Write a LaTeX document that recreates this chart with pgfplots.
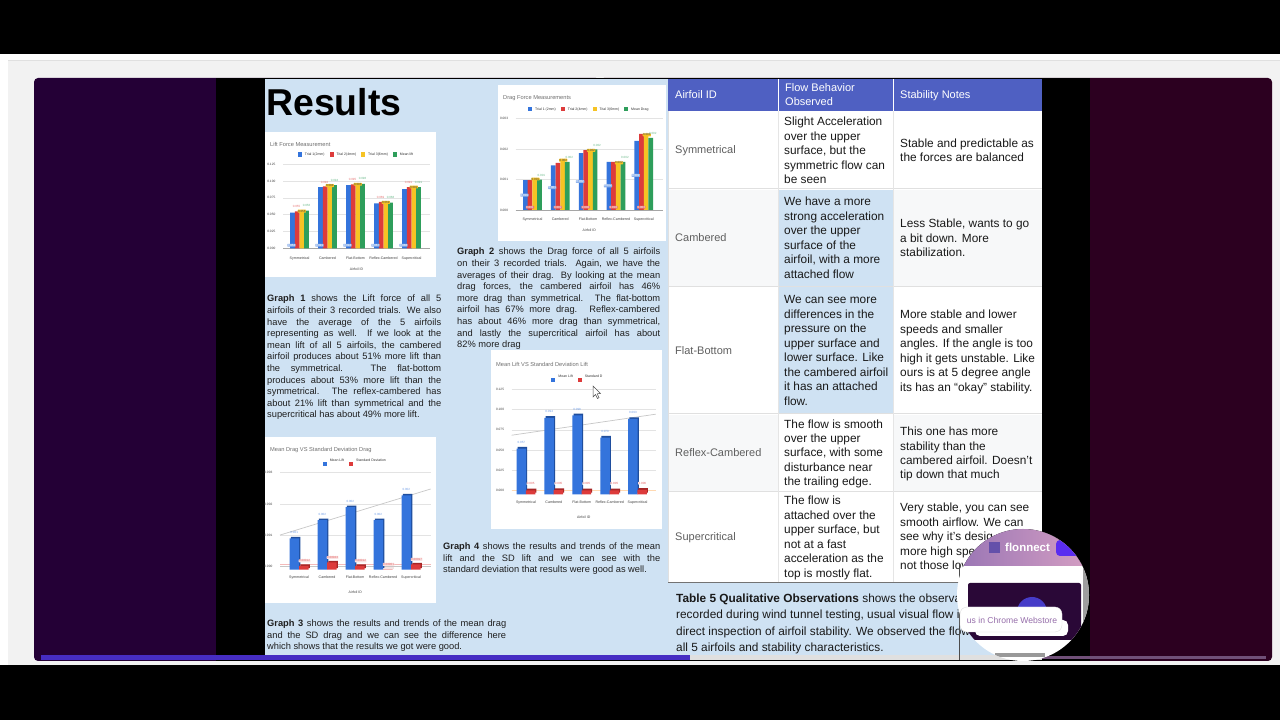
\documentclass[border=0pt]{standalone}
\usepackage{pgfplots}
\usepackage{pgfplotstable}
\usepackage{fontspec}
\setmainfont{Liberation Sans}
\pgfplotsset{compat=1.18}
\definecolor{cblue}{HTML}{3474DC}
\definecolor{cdblue}{HTML}{1F4E9E}
\definecolor{cred}{HTML}{DD3B3B}
\definecolor{cdred}{HTML}{A62626}
\definecolor{cyel}{HTML}{F6C324}
\definecolor{cgrn}{HTML}{2E9E5B}
\definecolor{slide}{HTML}{CFE2F3}
\definecolor{hdr}{HTML}{4F60C2}
\definecolor{rowg}{HTML}{F7F8F9}
\definecolor{tgray}{HTML}{5F5F5F}
\definecolor{ctitle}{HTML}{6F6F6F}
\definecolor{lpan}{HTML}{240036}
\definecolor{rpan}{HTML}{2C0020}
\definecolor{pbar}{HTML}{462DC3}
\definecolor{pbar2}{HTML}{705078}
\definecolor{bubA}{HTML}{9673B4}
\definecolor{bubB}{HTML}{D7A0C3}
\definecolor{bubP}{HTML}{2A0837}
\definecolor{bubC}{HTML}{463CC8}
\definecolor{bubD}{HTML}{5A2DF0}
\definecolor{bubL}{HTML}{6450AA}
\definecolor{bubT}{HTML}{966EAA}
\pgfplotstableread{
x t1 t2 t3 m
0 0.053 0.055 0.056 0.056
1 0.091 0.092 0.094 0.094
2 0.094 0.095 0.096 0.096
3 0.067 0.069 0.069 0.068
4 0.088 0.091 0.092 0.091
}\gOne
\pgfplotstableread{
x t1 t2 t3 m
0 0.00098 0.00098 0.00105 0.00100
1 0.00147 0.00155 0.00167 0.00158
2 0.00187 0.00197 0.00199 0.00199
3 0.00158 0.00158 0.00158 0.00158
4 0.00227 0.00250 0.00250 0.00237
}\gTwo
\pgfplotstableread{
x m sd
0 0.00100 0.00012
1 0.00158 0.00023
2 0.00200 0.00012
3 0.00158 0.00001
4 0.00237 0.00017
}\gThree
\pgfplotstableread{
x m sd
0 0.0565 0.0050
1 0.0943 0.0052
2 0.0975 0.0050
3 0.0700 0.0050
4 0.0930 0.0055
}\gFour
\pgfplotsset{
  lg/.style={legend image code/.code={\fill[fill=#1] (0,-1.6pt) rectangle (4pt,2.8pt);}},
  mini/.style={
    scale only axis, clip=false, scaled y ticks=false,
    axis x line=bottom, axis y line=left,
    x axis line style={draw=gray!70,-,line width=.5pt},
    y axis line style={draw=none},
    tick style={draw=none},
    ymajorgrids, grid style={draw=gray!22,line width=.4pt},
    xtick={0,1,2,3,4},
    xticklabels={Symmetrical,Cambered,Flat-Bottom,Reflex-Cambered,Supercritical},
    ticklabel style={text=black!75},
    xticklabel style={font=\fontsize{3.6}{4}\selectfont,yshift=-2.5pt},
    yticklabel style={font=\fontsize{3.2}{4}\selectfont,xshift=-2pt,
      /pgf/number format/fixed,/pgf/number format/fixed zerofill,/pgf/number format/precision=3,/pgf/number format/assume math mode=true},
    xlabel={Airfoil ID},
    xlabel style={font=\fontsize{3.5}{4}\selectfont,text=black!75,yshift=-1pt},
    legend style={draw=none,fill=none,anchor=center,
      font=\fontsize{3.5}{4}\selectfont,text=black!80,inner sep=0pt,
      /tikz/every even column/.append style={column sep=3pt},
      /tikz/every odd column/.append style={column sep=1pt}},
    legend cell align=left,
    /pgf/number format/assume math mode=true,
  },
  labelonly/.style={draw=none,mark=none,forget plot,nodes near coords,point meta=explicit,
    every node near coord/.style={font=\fontsize{3}{3}\selectfont,inner sep=.4pt,anchor=center,rounded corners=.5pt,#1},
    /pgf/number format/fixed,/pgf/number format/fixed zerofill,/pgf/number format/precision=3,/pgf/number format/assume math mode=true},
}
\tikzset{px/.style={x=1pt,y=-1pt,yshift=720pt}}
\newcommand\TL[3]{\node[anchor=mid west,inner sep=0pt] at (#1,#2+1.2) {#3};}
\newcommand\JL[4]{\node[anchor=mid west,inner sep=0pt] at (#1,#2+1.2) {\makebox[#3pt][s]{#4}};}
\begin{document}
\begin{tikzpicture}
\useasboundingbox (0,0) rectangle (1280pt,720pt);
\clip (0,0) rectangle (1280pt,720pt);
\begin{scope}[px]
  \fill[white] (0,0) rectangle (1280,720);
  \fill[black] (0,0) rectangle (1280,54);
  \fill[black] (0,665) rectangle (1280,720);
  \fill[black!5] (8,61) rectangle (1280,665);
  \fill[black!12] (8,60) rectangle (1280,61);
  \fill[lpan, rounded corners=4pt] (34,78) rectangle (600,661);
  \fill[rpan, rounded corners=4pt] (600,78) rectangle (1272,661);
  \fill[black] (216,78) rectangle (1090,661);
  \fill[slide] (265,79) rectangle (1042,660);
  % chart cards
  \fill[white] (265,132) rectangle (436,277);
  \fill[white] (498,85) rectangle (666,241);
  \fill[white] (265,437) rectangle (436,603);
  \fill[white] (491,350) rectangle (662,529);
  % table cells
  \fill[white] (668,111) rectangle (1042,582);
  \fill[rowg] (668,190) rectangle (778,286);
  \fill[slide] (779,190) rectangle (893,413);
  \fill[rowg] (894,190) rectangle (1042,286);
  \fill[rowg] (668,415) rectangle (778,491);
  \fill[rowg] (894,415) rectangle (1042,491);
  \fill[hdr] (668,79) rectangle (1042,111);
  \draw[white,line width=.7pt] (778.5,79) -- (778.5,111) (893.5,79) -- (893.5,111);
  \draw[black!12,line width=1pt] (668,189) -- (1042,189) (668,287) -- (1042,287) (668,414) -- (1042,414) (668,492) -- (1042,492);
  \draw[black!10,line width=.7pt] (778.5,111) -- (778.5,582) (893.5,111) -- (893.5,582);
  \draw[black!55,line width=.7pt] (668,582) -- (1042,582);
  \draw[black!12,line width=.7pt] (668,111) -- (668,582);
\end{scope}

%% Graph 1
\begin{axis}[mini, at={(283pt,471.7pt)}, anchor=south west, width=147pt, height=84pt,
  xmin=-0.59, xmax=4.66, ymin=0, ymax=0.125, ytick={0,0.025,0.05,0.075,0.1,0.125},
  legend style={at={(0.5,1.11)}}, legend columns=4]
\addplot[ybar,bar width=4.7pt,bar shift=-7pt,fill=cblue,draw=none,lg=cblue] table[x=x,y=t1]{\gOne};
\addlegendentry{Trial 1(2mm)}
\addplot[ybar,bar width=4.7pt,bar shift=-2.35pt,fill=cred,draw=none,lg=cred] table[x=x,y=t2]{\gOne};
\addlegendentry{Trial 2(4mm)}
\addplot[ybar,bar width=4.7pt,bar shift=2.35pt,fill=cyel,draw=none,lg=cyel] table[x=x,y=t3]{\gOne};
\addlegendentry{Trial 3(6mm)}
\addplot[ybar,bar width=4.7pt,bar shift=7pt,fill=cgrn,draw=none,lg=cgrn] table[x=x,y=m]{\gOne};
\addlegendentry{Mean lift}
\addplot[labelonly={fill=cblue!55,text=white,xshift=-8pt}] table[x=x,y expr=0.0045,meta=t1]{\gOne};
\addplot[labelonly={text=cred!70,xshift=-3pt,yshift=4.5pt}] table[x=x,y=t2,meta=t2]{\gOne};
\addplot[labelonly={fill=cyel,text=black!70,xshift=2.3pt,yshift=-.5pt}] table[x=x,y=t3,meta=t3]{\gOne};
\addplot[labelonly={text=cgrn!70,xshift=7pt,yshift=5pt}] table[x=x,y=m,meta=m]{\gOne};
\end{axis}

%% Graph 2
\begin{axis}[mini, at={(515.7pt,510pt)}, anchor=south west, width=147.3pt, height=91.3pt,
  xmin=-0.6, xmax=4.69, ymin=0, ymax=0.003, ytick={0,0.001,0.002,0.003},
  legend style={at={(0.5,1.10)}}, legend columns=4]
\addplot[ybar,bar width=4.7pt,bar shift=-7pt,fill=cblue,draw=none,lg=cblue] table[x=x,y=t1]{\gTwo};
\addlegendentry{Trial 1 (2mm)}
\addplot[ybar,bar width=4.7pt,bar shift=-2.35pt,fill=cred,draw=none,lg=cred] table[x=x,y=t2]{\gTwo};
\addlegendentry{Trial 2(4mm)}
\addplot[ybar,bar width=4.7pt,bar shift=2.35pt,fill=cyel,draw=none,lg=cyel] table[x=x,y=t3]{\gTwo};
\addlegendentry{Trial 3(6mm)}
\addplot[ybar,bar width=4.7pt,bar shift=7pt,fill=cgrn,draw=none,lg=cgrn] table[x=x,y=m]{\gTwo};
\addlegendentry{Mean Drag}
\addplot[labelonly={fill=cblue!55,text=white,xshift=-8pt}] table[x=x,y expr=\thisrow{t1}/2,meta=t1]{\gTwo};
\addplot[labelonly={fill=cred!70,text=white,xshift=-2.5pt}] table[x=x,y expr=0.00009,meta=t2]{\gTwo};
\addplot[labelonly={fill=cyel,text=black!70,xshift=3pt,yshift=-1pt}] table[x=x,y=t3,meta=t3]{\gTwo};
\addplot[labelonly={text=cgrn!70,xshift=9pt,yshift=4pt}] table[x=x,y=m,meta=m]{\gTwo};
\end{axis}

%% Graph 3
\begin{axis}[mini, at={(280pt,153.3pt)}, anchor=south west, width=150.7pt, height=94pt,
  xmin=-0.68, xmax=4.70, ymin=0, ymax=0.003, ytick={0,0.001,0.002,0.003},
  x axis line style={draw=gray!45,line width=1.3pt},
  xticklabel style={yshift=-1.5pt}, xlabel style={yshift=-3pt},
  legend style={at={(0.5,1.117)}}, legend columns=2]
\addplot[forget plot,black!22,line width=.7pt] coordinates {(-0.68,0.00101) (4.70,0.00248)};
\addplot[forget plot,cred!35,line width=.5pt] coordinates {(-0.68,0.00007) (4.70,0.00007)};
\addplot[forget plot,ybar,bar width=9.5pt,bar shift=-3.5pt,fill=cdblue,draw=none,yshift=-1.5pt] table[x=x,y=m]{\gThree};
\addplot[ybar,bar width=9.5pt,bar shift=-4.8pt,fill=cblue,draw=none,lg=cblue,yshift=-3pt] table[x=x,y=m]{\gThree};
\addlegendentry{Mean Lift}
\addplot[forget plot,ybar,bar width=9.5pt,bar shift=6pt,fill=cdred,draw=none,yshift=-1.5pt] table[x=x,y=sd]{\gThree};
\addplot[ybar,bar width=9.5pt,bar shift=4.8pt,fill=cred,draw=none,lg=cred,yshift=-3pt] table[x=x,y=sd]{\gThree};
\addlegendentry{Standard Deviation}
\addplot[labelonly={text=cblue!70,xshift=-4.8pt,yshift=3pt}] table[x=x,y=m,meta=m]{\gThree};
\addplot[labelonly={fill=cred!15,text=cred!80,xshift=5.5pt,yshift=2pt},
  nodes near coords={\pgfmathprintnumber[fixed,precision=5,assume math mode=true]{\pgfplotspointmeta}}]
  table[x=x,y=sd,meta=sd]{\gThree};
\end{axis}

%% Graph 4
\begin{axis}[mini, at={(511.7pt,229.3pt)}, anchor=south west, width=144pt, height=101.4pt,
  xmin=-0.51, xmax=4.65, ymin=0, ymax=0.125, ytick={0,0.025,0.05,0.075,0.1,0.125},
  x axis line style={draw=orange!30,line width=1.2pt},
  xticklabel style={yshift=-2.5pt}, xlabel style={yshift=-3.5pt},
  legend style={at={(0.46,1.115)}}, legend columns=2]
\addplot[forget plot,black!22,line width=.7pt] coordinates {(-0.51,0.0684) (4.65,0.0943)};
\addplot[forget plot,ybar,bar width=9.5pt,bar shift=-3.5pt,fill=cdblue,draw=none,yshift=-2pt] table[x=x,y=m]{\gFour};
\addplot[ybar,bar width=9.5pt,bar shift=-4.6pt,fill=cblue,draw=none,lg=cblue,yshift=-3.7pt] table[x=x,y=m]{\gFour};
\addlegendentry{Mean Lift}
\addplot[forget plot,ybar,bar width=9.5pt,bar shift=5.6pt,fill=cdred,draw=none,yshift=-2pt] table[x=x,y=sd]{\gFour};
\addplot[ybar,bar width=9.5pt,bar shift=4.6pt,fill=cred,draw=none,lg=cred,yshift=-3.7pt] table[x=x,y=sd]{\gFour};
\addlegendentry{Standard D}
\addplot[labelonly={text=cblue!70,xshift=-4.6pt,yshift=2.5pt}] table[x=x,y=m,meta=m]{\gFour};
\addplot[labelonly={fill=white,text=cred!80,xshift=4.8pt,yshift=3pt}] table[x=x,y=sd,meta=sd]{\gFour};
\end{axis}

\begin{scope}[px]
  % chart titles
  \begin{scope}[every node/.style={text=ctitle,font=\fontsize{5.7}{7}\selectfont}]
  \TL{270}{143}{Lift Force Measurement}
  \TL{503}{96}{Drag Force Measurements}
  \TL{270}{448}{Mean Drag VS Standard Deviation Drag}
  \TL{496}{363}{Mean Lift VS Standard Deviation Lift}
  \end{scope}
  % title
  \node[anchor=mid west,inner sep=0pt,font=\fontsize{37.4}{38}\selectfont\bfseries] at (266,113) {Results};
  % paragraphs
  \begin{scope}[every node/.style={font=\fontsize{9.3}{11}\selectfont,text=black!88}]
  \JL{267}{298}{174}{\textbf{Graph 1} shows the Lift force of all 5}
  \JL{267}{309.6}{174}{airfoils of their 3 recorded trials. We also}
  \JL{267}{321.2}{174}{have the average of the 5 airfoils}
  \JL{267}{332.8}{174}{representing as well. If we look at the}
  \JL{267}{344.4}{174}{mean lift of all 5 airfoils, the cambered}
  \JL{267}{356}{174}{airfoil produces about 51\% more lift than}
  \JL{267}{367.6}{174}{the symmetrical. The flat-bottom}
  \JL{267}{379.2}{174}{produces about 53\% more lift than the}
  \JL{267}{390.8}{174}{symmetrical. The reflex-cambered has}
  \JL{267}{402.4}{174}{about 21\% lift than symmetrical and the}
  \TL{267}{414}{supercritical has about 49\% more lift.}
  \JL{457}{251}{203}{\textbf{Graph 2} shows the Drag force of all 5 airfoils}
  \JL{457}{262.6}{203}{on their 3 recorded trials. Again, we have the}
  \JL{457}{274.2}{203}{averages of their drag. By looking at the mean}
  \JL{457}{285.8}{203}{drag forces, the cambered airfoil has 46\%}
  \JL{457}{297.4}{203}{more drag than symmetrical. The flat-bottom}
  \JL{457}{309}{203}{airfoil has 67\% more drag. Reflex-cambered}
  \JL{457}{320.6}{203}{has about 46\% more drag than symmetrical,}
  \JL{457}{332.2}{203}{and lastly the supercritical airfoil has about}
  \TL{457}{343.8}{82\% more drag}
  \JL{267}{623}{239}{\textbf{Graph 3} shows the results and trends of the mean drag}
  \JL{267}{634.5}{239}{and the SD drag and we can see the difference here}
  \TL{267}{646}{which shows that the results we got were good.}
  \JL{443}{546}{217}{\textbf{Graph 4} shows the results and trends of the mean}
  \JL{443}{557.5}{217}{lift and the SD lift and we can see with the}
  \TL{443}{569}{standard deviation that results were good as well.}
  \end{scope}
  % table header
  \begin{scope}[every node/.style={font=\fontsize{11}{13}\selectfont,text=white}]
  \TL{675}{95}{Airfoil ID}
  \TL{785}{88}{Flow Behavior}
  \TL{785}{102}{Observed}
  \TL{900}{95}{Stability Notes}
  \end{scope}
  \begin{scope}[every node/.style={font=\fontsize{11}{13}\selectfont,text=tgray}]
  \TL{675}{150}{Symmetrical}
  \TL{675}{238}{Cambered}
  \TL{675}{351}{Flat-Bottom}
  \TL{675}{453}{Reflex-Cambered}
  \TL{675}{537}{Supercritical}
  \end{scope}
  \begin{scope}[every node/.style={font=\fontsize{11.85}{14}\selectfont,text=black!90}]
  \TL{784}{122}{Slight Acceleration}
  \TL{784}{136.5}{over the upper}
  \TL{784}{151}{surface, but the}
  \TL{784}{165.5}{symmetric flow can}
  \TL{784}{180}{be seen}
  \TL{900}{144}{Stable and predictable as}
  \TL{900}{158}{the forces are balanced}
  \TL{784}{202}{We have a more}
  \TL{784}{216.5}{strong acceleration}
  \TL{784}{231}{over the upper}
  \TL{784}{245.5}{surface of the}
  \TL{784}{260}{airfoil, with a more}
  \TL{784}{274.5}{attached flow}
  \TL{900}{224}{Less Stable, wants to go}
  \TL{900}{238.5}{a bit down. More}
  \TL{900}{253}{stabilization.}
  \TL{784}{300}{We can see more}
  \TL{784}{314.5}{differences in the}
  \TL{784}{329}{pressure on the}
  \TL{784}{343.5}{upper surface and}
  \TL{784}{358}{lower surface. Like}
  \TL{784}{372.5}{the cambered airfoil}
  \TL{784}{387}{it has an attached}
  \TL{784}{401.5}{flow.}
  \TL{900}{315}{More stable and lower}
  \TL{900}{329.5}{speeds and smaller}
  \TL{900}{344}{angles. If the angle is too}
  \TL{900}{358.5}{high it gets unstable. Like}
  \TL{900}{373}{ours is at 5 degree angle}
  \TL{900}{387.5}{its has an “okay” stability.}
  \TL{784}{424.5}{The flow is smooth}
  \TL{784}{439}{over the upper}
  \TL{784}{453}{surface, with some}
  \TL{784}{467.5}{disturbance near}
  \TL{784}{482}{the trailing edge.}
  \TL{900}{432}{This one has more}
  \TL{900}{446.5}{stability than the}
  \TL{900}{461}{cambered airfoil. Doesn't}
  \TL{900}{475}{tip down that much}
  \TL{784}{501}{The flow is}
  \TL{784}{515.5}{attached over the}
  \TL{784}{530}{upper surface, but}
  \TL{784}{544.5}{not at a fast}
  \TL{784}{559}{acceleration as the}
  \TL{784}{573.5}{top is mostly flat.}
  \TL{900}{508}{Very stable, you can see}
  \TL{900}{522.5}{smooth airflow. We can}
  \TL{900}{537}{see why it's desig}
  \TL{900}{551.5}{more high spe}
  \TL{900}{566}{not those lov}
  \TL{676}{599}{\textbf{Table 5 Qualitative Observations} shows the observa}
  \TL{676}{615}{recorded during wind tunnel testing, usual visual flow i}
  \TL{676}{632}{direct inspection of airfoil stability. We observed the flow}
  \TL{676}{648}{all 5 airfoils and stability characteristics.}
  \end{scope}
  % progress bar
  \fill[black!12] (690,655) rectangle (1042,660);
  \fill[pbar2] (1042,656) rectangle (1266,659);
  \fill[pbar] (41,655) rectangle (690,660);
  % cursor
  \fill[white,draw=black!70,line width=.5pt] (593,386) -- (593,397) -- (595.5,394.5) -- (597.5,398.5) -- (599,397.7) -- (597.2,393.8) -- (600.5,393.5) -- cycle;
  % screen line
  \draw[black!70,line width=.6pt] (959,563) -- (959,660);
  % bubble
  \begin{scope}
    \clip (1023,595) circle (66);
    \fill[white] (950,525) rectangle (1095,665);
    \fill[left color=bubA,right color=bubB] (950,525) rectangle (1095,566);
    \fill[black!38] (1083,566) rectangle (1095,660);
    \fill[bubP,rounded corners=2pt] (968,583) rectangle (1081,640);
    \fill[bubC] (1032,612) circle (15);
    \fill[bubD,rounded corners=4pt] (1056,540) rectangle (1095,556);
    \fill[black!40] (995,653) rectangle (1045,657);
    \fill[bubL] (989,542) rectangle (1000,553);
    \node[anchor=mid west,inner sep=0pt,text=white,font=\fontsize{11.5}{12}\selectfont\bfseries] at (1005,549) {flonnect};
  \end{scope}
  \fill[white,rounded corners=5pt] (975,620) rectangle (1068,636);
  \fill[white,draw=black!15,line width=.3pt,rounded corners=7pt] (960,607) rectangle (1062,632);
  \node[anchor=center,inner sep=0pt,text=bubT,font=\fontsize{8.6}{9}\selectfont] at (1012,620) {us in Chrome Webstore};
\end{scope}
\end{tikzpicture}
\end{document}
